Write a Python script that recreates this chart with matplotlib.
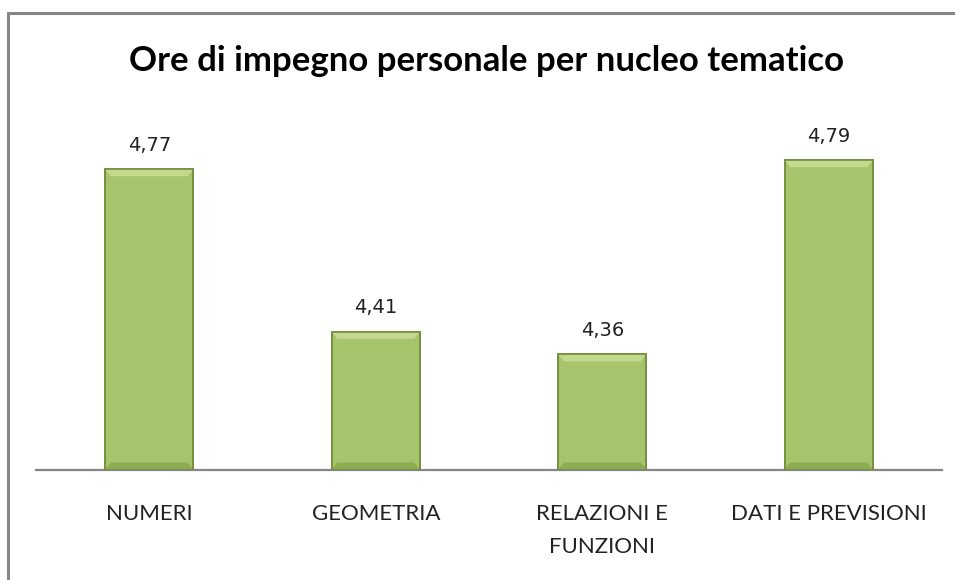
import matplotlib
matplotlib.use("Agg")
import matplotlib.pyplot as plt
from matplotlib.patches import Rectangle, Polygon

categories = ["NUMERI", "GEOMETRIA", "RELAZIONI E\nFUNZIONI", "DATI E PREVISIONI"]
values = [4.77, 4.41, 4.36, 4.79]
title = "Ore di impegno personale per nucleo tematico"

y_min, y_max = 4.105, 4.9
bar_face = "#A6C46B"
bar_edge = "#748F3E"
bevel_top = "#C3DA8E"
bevel_bottom = "#8EAD52"
frame_color = "#868686"


def format_value(v):
    return f"{v:.2f}".replace(".", ",")


fig = plt.figure(figsize=(9.55, 5.8), dpi=100)
ax = fig.add_axes([36 / 955, 110.5 / 580, 906 / 955, 359 / 580])

x = list(range(len(categories)))
bars = ax.bar(x, [v - y_min for v in values], bottom=y_min, width=0.39,
              color=bar_face, edgecolor=bar_edge, linewidth=1.2, zorder=2)

ax.set_xlim(-0.5, len(categories) - 0.5)
ax.set_ylim(y_min, y_max)

# bevel: light band on top, darker band at the bottom of each bar
px_per_unit = ax.bbox.height / (y_max - y_min)
band = 7 / px_per_unit
inset = 0.025
for rect in bars:
    x0, w = rect.get_x(), rect.get_width()
    top = rect.get_y() + rect.get_height()
    base = rect.get_y()
    ax.add_patch(Polygon([(x0, top), (x0 + w, top), (x0 + w - inset, top - band),
                          (x0 + inset, top - band)], closed=True,
                         facecolor=bevel_top, edgecolor="none", zorder=3))
    ax.add_patch(Polygon([(x0, base), (x0 + w, base), (x0 + w - inset, base + band),
                          (x0 + inset, base + band)], closed=True,
                         facecolor=bevel_bottom, edgecolor="none", zorder=3))
    ax.add_patch(Rectangle((x0, base), w, top - base, fill=False,
                           edgecolor=bar_edge, linewidth=1.2, zorder=4))

ax.bar_label(bars, labels=[format_value(v) for v in values], padding=10.5,
             fontsize=14, family="DejaVu Sans", color="#222222")

ax.set_xticks(x, categories)
ax.tick_params(axis="x", length=0, pad=25, labelsize=16, labelcolor="#222222")
for lbl in ax.get_xticklabels():
    lbl.set_family("Lato")
    lbl.set_linespacing(1.8)
ax.set_yticks([])
for side in ["left", "right", "top"]:
    ax.spines[side].set_visible(False)
ax.spines["bottom"].set_color(frame_color)
ax.spines["bottom"].set_linewidth(1.6)

fig.text(486 / 955, 1 - 61 / 580, title, ha="center", va="center",
         fontsize=25, family="Lato", weight="bold", color="#000000")

# chart area frame (clipped on the right and bottom, as in the original)
fig.patches.append(Rectangle((8 / 955, -0.1), 1.0, 1.1 - 13 / 580,
                             transform=fig.transFigure, fill=False,
                             edgecolor=frame_color, linewidth=2.2))

fig.savefig("out.png", dpi=100)
